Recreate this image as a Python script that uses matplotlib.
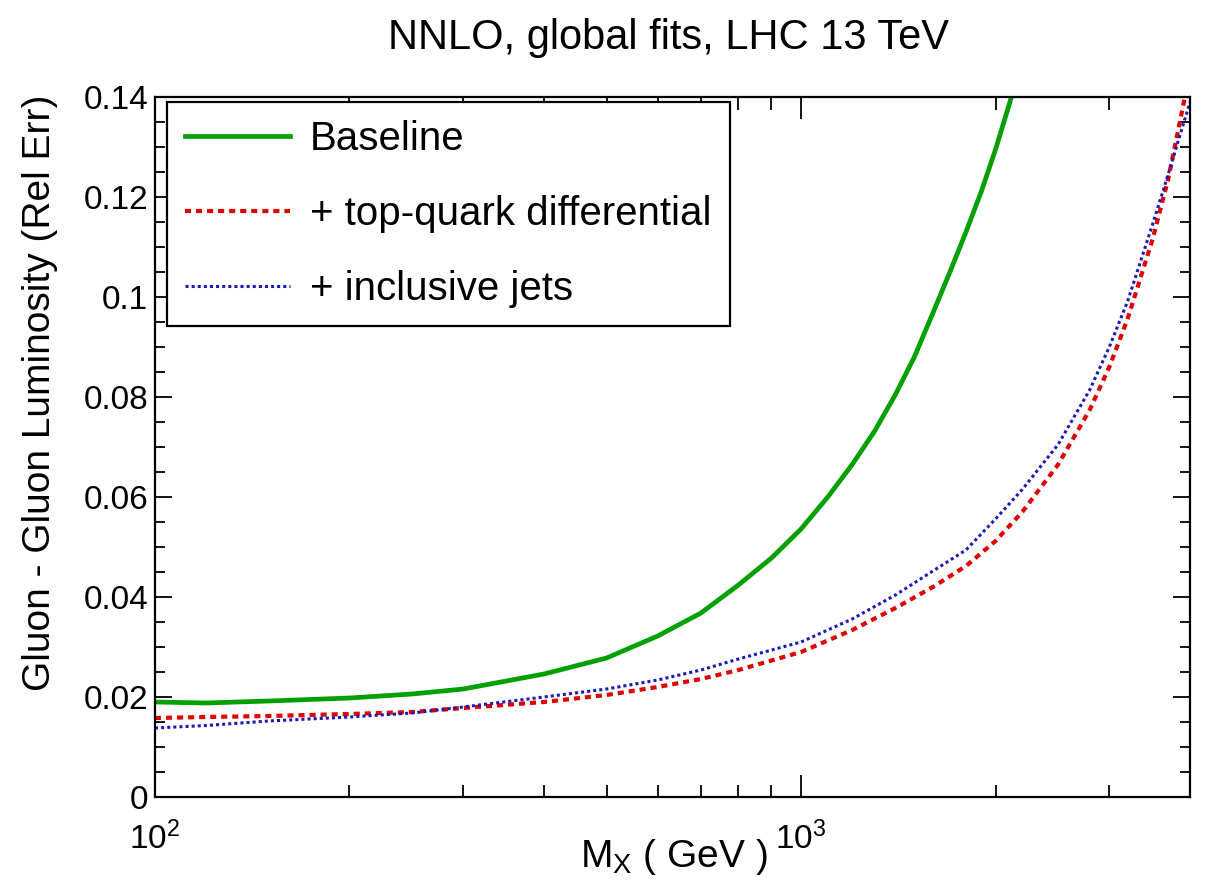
#!/usr/bin/env python3
"""
Gluon-gluon luminosity relative error vs M_X, NNLO global fits at 13 TeV.

Output:
- out.png
"""

import matplotlib

matplotlib.use("Agg")
import matplotlib.pyplot as plt
from matplotlib.ticker import FuncFormatter, LogLocator, MultipleLocator, NullFormatter

# values
mass_baseline = [100, 120, 150, 200, 250, 300, 400, 500, 600, 700, 800, 900,
                 1000, 1100, 1200, 1300, 1400, 1500, 1600, 1700, 1800, 1900,
                 2000, 2100, 2200]
baseline = [0.0190, 0.0188, 0.0192, 0.0198, 0.0206, 0.0216, 0.0246, 0.0278, 0.0322,
            0.0368, 0.0424, 0.0478, 0.0536, 0.0600, 0.0665, 0.0732, 0.0805, 0.0882,
            0.0968, 0.1050, 0.1130, 0.1210, 0.1295, 0.1385, 0.1475]

mass = [100, 120, 150, 200, 250, 300, 400, 500, 600, 700, 800, 1000, 1200, 1400,
        1600, 1800, 2000, 2200, 2500, 2800, 3000, 3200, 3500, 3700, 4000]
top_diff = [0.0158, 0.0160, 0.0162, 0.0166, 0.0170, 0.0178, 0.0190, 0.0204, 0.0220,
            0.0236, 0.0254, 0.0290, 0.0334, 0.0378, 0.0420, 0.0462, 0.0512, 0.0570,
            0.0665, 0.0775, 0.0860, 0.0955, 0.1115, 0.1235, 0.1450]
incl_jets = [0.0138, 0.0143, 0.0152, 0.0160, 0.0168, 0.0180, 0.0200, 0.0216, 0.0234,
             0.0254, 0.0276, 0.0310, 0.0356, 0.0404, 0.0452, 0.0494, 0.0556, 0.0615,
             0.0705, 0.0815, 0.0900, 0.0990, 0.1145, 0.1245, 0.1390]

labels = ["Baseline", "+ top-quark differential", "+ inclusive jets"]
title = "NNLO, global fits, LHC 13 TeV"
xlabel = r"M$_{\mathrm{X}}$ ( GeV )"
ylabel = "Gluon - Gluon Luminosity (Rel Err)"

plt.rcParams["font.family"] = ["Liberation Sans", "DejaVu Sans"]
plt.rcParams["mathtext.fontset"] = "custom"
plt.rcParams["mathtext.rm"] = "Liberation Sans"
plt.rcParams["mathtext.it"] = "Liberation Sans:italic"
plt.rcParams["mathtext.bf"] = "Liberation Sans:bold"

W, H = 1209, 882
fig = plt.figure(figsize=(W / 100, H / 100), dpi=100)
ax = fig.add_axes([155 / W, 1 - 797 / H, 1035 / W, 700 / H])

ax.plot(mass_baseline, baseline, color="#00a000", lw=3.4, label=labels[0])
ax.plot(mass, top_diff, color="#e00000", lw=3.0, linestyle=(0, (1.45, 1.2)), label=labels[1])
ax.plot(mass, incl_jets, color="#1a1ab4", lw=2.2, linestyle=(0, (1, 1)), label=labels[2])

ax.set_xscale("log")
ax.set_xlim(100, 4000)
ax.set_ylim(0, 0.14)

ax.yaxis.set_major_locator(MultipleLocator(0.02))
ax.yaxis.set_minor_locator(MultipleLocator(0.005))
ax.yaxis.set_major_formatter(FuncFormatter(lambda v, p: f"{v:g}"))
ax.xaxis.set_major_locator(LogLocator(base=10))
ax.xaxis.set_minor_locator(LogLocator(base=10, subs=range(2, 10)))
ax.xaxis.set_minor_formatter(NullFormatter())

ax.tick_params(which="both", direction="in", top=True, right=True, width=1.3, colors="black")
ax.tick_params(axis="y", which="major", length=12, labelsize=24, pad=5)
ax.tick_params(axis="y", which="minor", length=7)
ax.tick_params(axis="x", which="major", length=16, labelsize=24, pad=18)
ax.tick_params(axis="x", which="minor", length=9)
for sp in ax.spines.values():
    sp.set_linewidth(1.6)

leg = ax.legend(loc="upper left", bbox_to_anchor=(0.0116, 0.993), fontsize=29,
                frameon=True, fancybox=False, edgecolor="black", framealpha=1,
                handlelength=2.6, handletextpad=0.5, labelspacing=0.92,
                borderpad=0.45, borderaxespad=0)
leg.get_frame().set_linewidth(1.6)

fig.text(668 / W, 1 - 38 / H, title, ha="center", va="center", fontsize=30)
fig.text(40 / W, 1 - 95 / H, ylabel, rotation=90, ha="center", va="top", fontsize=28)
fig.text(674 / W, 1 - 857 / H, xlabel, ha="center", va="center", fontsize=28)

fig.savefig("out.png", dpi=100)
plt.close(fig)
